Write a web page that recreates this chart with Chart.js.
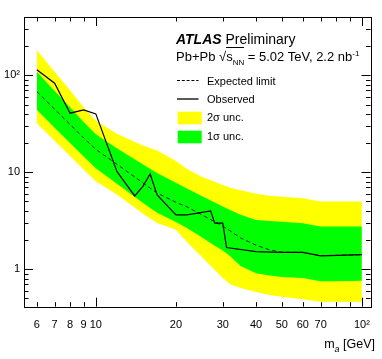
<!DOCTYPE html>
<html>
<head>
<meta charset="utf-8">
<title>ATLAS Pb+Pb ALP limit</title>
<script src="https://cdn.jsdelivr.net/npm/chart.js@4.4.1/dist/chart.umd.min.js"></script>
<style>
    body { margin: 0; background: #fff; }
    #wrap { position: relative; width: 382px; height: 359px; font-family: "Liberation Sans", Arial, sans-serif; color: #000; }
    #wrap canvas { position: absolute; left: 0; top: 0; }
    .lbl { position: absolute; white-space: nowrap; line-height: 1; }
    .lbl sub, .lbl sup { line-height: 0; }
</style>
</head>
<body>
<div id="wrap">
    <canvas id="limitChart" width="382" height="359"></canvas>
    <div class="lbl" style="left:176px; top:31.5px; font-size:14px;"><b><i>ATLAS</i></b> Preliminary</div>
    <div class="lbl" style="left:176px; top:50.3px; font-size:13px;">Pb+Pb &radic;<span style="border-top:1px solid #000; padding-top:1px;">s<sub style="font-size:8px;">NN</sub></span> = 5.02 TeV, 2.2 nb<sup style="font-size:8px;">-1</sup></div>
    <div class="lbl" style="left:207px; top:75.7px; font-size:11px;">Expected limit</div>
    <div class="lbl" style="left:207px; top:94px; font-size:11px;">Observed</div>
    <div class="lbl" style="left:207px; top:112.2px; font-size:11px;">2&sigma; unc.</div>
    <div class="lbl" style="left:207px; top:131.2px; font-size:11px;">1&sigma; unc.</div>
    <div class="lbl" style="right:7px; top:338px; font-size:12.5px;">m<sub style="font-size:9px;"><i>a</i></sub> [GeV]</div>
</div>
<script>
// Band values (expected limit and its 1 and 2 sigma envelopes)
const bandMass = [6, 7, 8, 9, 10, 12, 15, 17, 20, 22, 25, 28, 30, 32, 35, 40, 45, 50, 60, 70, 80, 100];
const yellowHi = [183, 109, 70, 47, 34, 25, 18.9, 16.8, 13.1, 10.8, 9.0, 7.96, 7.41, 6.93, 6.54, 6.01, 5.71, 5.60, 5.40, 4.99, 4.99, 4.99];
const greenHi = [109, 69, 47, 33, 24.7, 17.7, 12.1, 9.8, 7.8, 6.8, 5.7, 4.87, 4.43, 4.07, 3.65, 3.21, 3.15, 3.08, 2.98, 2.75, 2.75, 2.75];
const expected = [68, 44.7, 31.2, 22.6, 17.2, 12.1, 7.8, 6.1, 4.9, 4.4, 3.65, 3.08, 2.79, 2.48, 2.10, 1.77, 1.58, 1.50, 1.49, 1.38, 1.39, 1.41];
const greenLo = [44.1, 28.8, 20.1, 14.5, 11.0, 7.6, 4.86, 3.81, 3.06, 2.66, 2.14, 1.74, 1.56, 1.36, 1.08, 0.91, 0.86, 0.83, 0.81, 0.75, 0.75, 0.76];
const yellowLo = [32.1, 21.1, 14.7, 10.7, 8.1, 5.9, 3.76, 3.0, 2.55, 1.91, 1.34, 0.98, 0.81, 0.70, 0.64, 0.58, 0.54, 0.52, 0.49, 0.46, 0.46, 0.46];

// Observed limit
const obsMass = [6, 7, 8, 9, 10, 12, 14, 15, 16, 17, 20, 22, 27, 28, 30, 31, 40, 50, 60, 70, 100];
const observed = [114, 83, 40.7, 44, 40, 10.2, 5.7, 7.1, 9.6, 5.85, 3.63, 3.63, 4.0, 2.98, 2.98, 1.67, 1.52, 1.49, 1.49, 1.37, 1.41];

// Axis ticks
const xLabelTicks = [6, 7, 8, 9, 10, 20, 30, 40, 50, 60, 70, 100];
const xTickMarks = [6, 7, 8, 9, 10, 20, 30, 40, 50, 60, 70, 80, 90, 100];
const yLabelTicks = [1, 10, 100];

const toPoints = (xs, ys) => xs.map((m, i) => ({ x: m, y: ys[i] }));
const supLabel = v => (v === 100 ? '10\u00B2' : String(v));

Chart.defaults.font.family = '"Liberation Sans", Arial, sans-serif';
Chart.defaults.color = '#000';

// Frame, inward ticks on all four sides, legend swatches
const frameTicks = {
    id: 'frameTicks',
    afterDraw(chart) {
        const { ctx, chartArea: a, scales: { x, y } } = chart;
        ctx.save();
        ctx.strokeStyle = '#000';
        ctx.lineWidth = 1;
        ctx.beginPath();
        xTickMarks.forEach(v => {
            const px = Math.round(x.getPixelForValue(v)) + 0.5;
            const len = (v === 10 || v === 100) ? 9 : 4.5;
            ctx.moveTo(px, a.bottom); ctx.lineTo(px, a.bottom - len);
            ctx.moveTo(px, a.top); ctx.lineTo(px, a.top + len);
        });
        for (let d = 0.1; d <= 100; d *= 10) {
            for (let k = 1; k <= 9; k++) {
                const v = k * d;
                if (v < y.min || v > y.max) continue;
                const py = Math.round(y.getPixelForValue(v)) + 0.5;
                const len = k === 1 ? 9 : 4.5;
                ctx.moveTo(a.left, py); ctx.lineTo(a.left + len, py);
                ctx.moveTo(a.right, py); ctx.lineTo(a.right - len, py);
            }
        }
        ctx.stroke();
        ctx.strokeRect(Math.round(a.left) + 0.5, Math.round(a.top) + 0.5,
            Math.round(a.right - a.left), Math.round(a.bottom - a.top));

        // legend swatches
        ctx.setLineDash([3, 1.8]);
        ctx.beginPath();
        ctx.moveTo(177, 80.5); ctx.lineTo(198.5, 80.5);
        ctx.stroke();
        ctx.setLineDash([]);
        ctx.lineWidth = 1.3;
        ctx.beginPath();
        ctx.moveTo(177, 99); ctx.lineTo(198.5, 99);
        ctx.stroke();
        ctx.fillStyle = '#ffff00';
        ctx.fillRect(177.7, 111.7, 24, 12.6);
        ctx.fillStyle = '#00ff00';
        ctx.fillRect(177.7, 130.7, 24, 12.6);
        ctx.restore();
    }
};

const bandStyle = { borderWidth: 0, pointRadius: 0, tension: 0 };

new Chart(document.getElementById('limitChart'), {
    type: 'line',
    data: {
        datasets: [
            { ...bandStyle, label: '2 sigma hi', data: toPoints(bandMass, yellowHi), fill: 1, backgroundColor: '#ffff00', order: 5 },
            { ...bandStyle, label: '2 sigma lo', data: toPoints(bandMass, yellowLo), fill: false, order: 6 },
            { ...bandStyle, label: '1 sigma hi', data: toPoints(bandMass, greenHi), fill: 3, backgroundColor: '#00ff00', order: 3 },
            { ...bandStyle, label: '1 sigma lo', data: toPoints(bandMass, greenLo), fill: false, order: 4 },
            {
                label: 'Expected limit', data: toPoints(bandMass, expected), fill: false,
                borderColor: '#222', borderWidth: 1, borderDash: [4, 3], pointRadius: 0, tension: 0, order: 2
            },
            {
                label: 'Observed', data: toPoints(obsMass, observed), fill: false,
                borderColor: '#000', borderWidth: 1.2, pointRadius: 0, tension: 0, order: 1
            }
        ]
    },
    options: {
        responsive: false,
        animation: false,
        devicePixelRatio: 1,
        layout: { padding: { top: 17, right: 7.5, left: 0, bottom: 0 } },
        plugins: { legend: { display: false }, tooltip: { enabled: false } },
        scales: {
            x: {
                type: 'logarithmic',
                min: 5.37,
                max: 107.8,
                grid: { display: false, drawTicks: false },
                border: { display: false },
                afterBuildTicks: s => { s.ticks = xLabelTicks.map(v => ({ value: v })); },
                afterFit: s => { s.height = 52.3; },
                ticks: { autoSkip: false, maxRotation: 0, padding: 12, font: { size: 11 }, callback: v => supLabel(v) }
            },
            y: {
                type: 'logarithmic',
                min: 0.41,
                max: 400,
                grid: { display: false, drawTicks: false },
                border: { display: false },
                afterBuildTicks: s => { s.ticks = yLabelTicks.map(v => ({ value: v })); },
                afterFit: s => { s.width = 24; },
                ticks: { autoSkip: false, padding: 4, font: { size: 11 }, callback: v => supLabel(v) }
            }
        }
    },
    plugins: [frameTicks]
});
</script>
</body>
</html>
